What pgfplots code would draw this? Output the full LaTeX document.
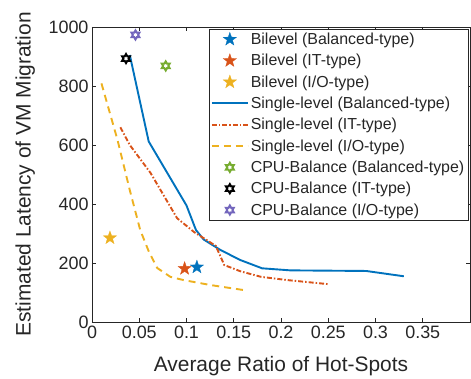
\documentclass[border=0pt]{standalone}
\usepackage{pgfplots}
\pgfplotsset{compat=1.18}
\usepackage{fontspec}
\setmainfont{Liberation Sans}
\definecolor{mblue}{rgb}{0,0.447,0.741}
\definecolor{mred}{rgb}{0.85,0.325,0.098}
\definecolor{myellow}{rgb}{0.929,0.694,0.125}
\definecolor{mgreen}{rgb}{0.466,0.674,0.188}
\definecolor{mpurple}{rgb}{0.45,0.40,0.74}
\definecolor{axgray}{rgb}{0.15,0.15,0.15}
\pgfdeclareplotmark{pent}{%
  \pgfpathmoveto{\pgfpointpolar{90}{\pgfplotmarksize}}%
  \pgfpathlineto{\pgfpointpolar{126}{0.4\pgfplotmarksize}}%
  \pgfpathlineto{\pgfpointpolar{162}{\pgfplotmarksize}}%
  \pgfpathlineto{\pgfpointpolar{198}{0.4\pgfplotmarksize}}%
  \pgfpathlineto{\pgfpointpolar{234}{\pgfplotmarksize}}%
  \pgfpathlineto{\pgfpointpolar{270}{0.4\pgfplotmarksize}}%
  \pgfpathlineto{\pgfpointpolar{306}{\pgfplotmarksize}}%
  \pgfpathlineto{\pgfpointpolar{342}{0.4\pgfplotmarksize}}%
  \pgfpathlineto{\pgfpointpolar{18}{\pgfplotmarksize}}%
  \pgfpathlineto{\pgfpointpolar{54}{0.4\pgfplotmarksize}}%
  \pgfpathclose\pgfusepathqfillstroke}
\pgfdeclareplotmark{hexa}{%
  \pgfpathmoveto{\pgfpointpolar{90}{\pgfplotmarksize}}%
  \pgfpathlineto{\pgfpointpolar{120}{0.577\pgfplotmarksize}}%
  \pgfpathlineto{\pgfpointpolar{150}{\pgfplotmarksize}}%
  \pgfpathlineto{\pgfpointpolar{180}{0.577\pgfplotmarksize}}%
  \pgfpathlineto{\pgfpointpolar{210}{\pgfplotmarksize}}%
  \pgfpathlineto{\pgfpointpolar{240}{0.577\pgfplotmarksize}}%
  \pgfpathlineto{\pgfpointpolar{270}{\pgfplotmarksize}}%
  \pgfpathlineto{\pgfpointpolar{300}{0.577\pgfplotmarksize}}%
  \pgfpathlineto{\pgfpointpolar{330}{\pgfplotmarksize}}%
  \pgfpathlineto{\pgfpointpolar{0}{0.577\pgfplotmarksize}}%
  \pgfpathlineto{\pgfpointpolar{30}{\pgfplotmarksize}}%
  \pgfpathlineto{\pgfpointpolar{60}{0.577\pgfplotmarksize}}%
  \pgfpathclose\pgfusepathqstroke}
\pgfplotsset{
  markleg/.style={legend image code/.code={\draw[##1, line width=0.3bp] plot coordinates {(18bp,0bp)};}},
  hexleg/.style={legend image code/.code={\draw[##1, line width=2bp] plot coordinates {(18bp,0bp)};}},
  lineleg/.style={legend image code/.code={\draw[##1, line width=1.9bp] (0bp,0bp) -- (36bp,0bp);}},
  blueleg/.style={legend image code/.code={\draw[draw=mblue, solid, line width=1.9bp] (0bp,0.4bp) -- (36bp,0.4bp);}},
}
\begin{document}
\begin{tikzpicture}
\useasboundingbox (-92bp,-57bp) rectangle (379bp,322bp);
\begin{axis}[
  scale only axis,
  width=378bp, height=295bp,
  xmin=0, xmax=0.4, ymin=0, ymax=1000,
  xtick={0,0.05,0.1,0.15,0.2,0.25,0.3,0.35},
  xticklabels={0,0.05,0.1,0.15,0.2,0.25,0.3,0.35},
  ytick={0,200,400,600,800,1000},
  yticklabels={0,200,400,600,800,1000},
  tick align=inside,
  major tick length=4bp,
  axis line style={axgray, line width=0.6bp},
  every tick/.style={axgray, line width=0.6bp},
  tick label style={font=\fontsize{18}{21}\selectfont, text=axgray},
  /pgf/number format/assume math mode=true,
  xlabel={Average Ratio of Hot-Spots},
  ylabel={Estimated Latency of VM Migration},
  label style={font=\fontsize{21}{25}\selectfont, text=axgray},
  xlabel style={at={(axis description cs:0.5,-0.168)}, anchor=base},
  ylabel style={at={(axis description cs:-0.177,0.5)}, anchor=center},
  clip=false,
  legend cell align=left,
  legend style={at={(0.995,0.993)}, anchor=north east, draw=axgray, line width=0.6bp,
    font=\fontsize{16}{19}\selectfont, text=axgray, inner sep=1.5bp, row sep=4.3bp,
    /tikz/every even column/.append style={column sep=2bp}},
]
\addplot[only marks, mark=pent, mark size=7bp, mblue, mark options={fill=mblue, line width=0.3bp}, markleg] coordinates {(0.111,186)};
\addlegendentry{Bilevel (Balanced-type)}
\addplot[only marks, mark=pent, mark size=7bp, mred, mark options={fill=mred, line width=0.3bp}, markleg] coordinates {(0.098,181)};
\addlegendentry{Bilevel (IT-type)}
\addplot[only marks, mark=pent, mark size=7bp, myellow, mark options={fill=myellow, line width=0.3bp}, markleg] coordinates {(0.019,285)};
\addlegendentry{Bilevel (I/O-type)}
\addplot[mblue, line width=1.9bp, blueleg] coordinates {
(0.040,905) (0.060,612) (0.100,395) (0.110,312) (0.118,280) (0.136,244) (0.157,210) (0.180,182) (0.210,175) (0.290,173) (0.330,155)};
\addlegendentry{Single-level (Balanced-type)}
\addplot[mred, line width=1.9bp, dash pattern=on 5bp off 2bp on 1.5bp off 2bp, lineleg] coordinates {
(0.030,660) (0.040,600) (0.062,505) (0.090,352) (0.108,305) (0.131,258) (0.140,193) (0.157,172) (0.179,153) (0.207,142) (0.251,128)};
\addlegendentry{Single-level (IT-type)}
\addplot[myellow, line width=1.9bp, dash pattern=on 7bp off 5bp, lineleg] coordinates {
(0.010,809) (0.027,617) (0.040,447) (0.051,312) (0.060,240) (0.069,183) (0.083,153) (0.097,142) (0.126,125) (0.161,108)};
\addlegendentry{Single-level (I/O-type)}
\addplot[only marks, mark=hexa, mark size=4.5bp, mgreen, mark options={line width=2bp}, hexleg] coordinates {(0.078,868)};
\addlegendentry{CPU-Balance (Balanced-type)}
\addplot[only marks, mark=hexa, mark size=4.5bp, black, mark options={line width=2bp}, hexleg] coordinates {(0.036,893)};
\addlegendentry{CPU-Balance (IT-type)}
\addplot[only marks, mark=hexa, mark size=4.5bp, mpurple, mark options={line width=2bp}, hexleg] coordinates {(0.046,973)};
\addlegendentry{CPU-Balance (I/O-type)}
\end{axis}
\end{tikzpicture}
\end{document}
